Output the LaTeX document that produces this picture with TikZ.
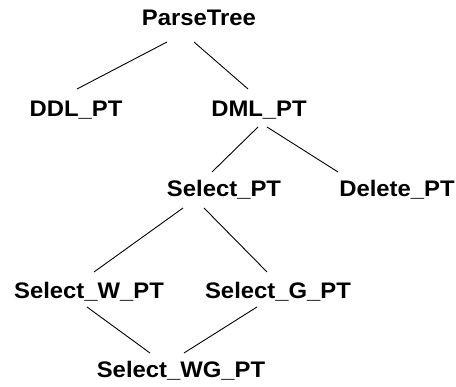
\documentclass[tikz,border=0pt]{standalone}
\usepackage{fontspec}
\setmainfont{Liberation Sans}[FakeStretch=1.06]
\begin{document}
\begin{tikzpicture}[x=1pt,y=1pt,
  lbl/.style={anchor=base,inner sep=0pt,font=\fontsize{22.5}{26}\selectfont\bfseries},
  edge/.style={line width=0.9pt}]
\useasboundingbox (0,0) rectangle (456,387);
\node[lbl] (P) at (199,361) {ParseTree};
\node[lbl] (DDL) at (76,270) {DDL\_PT};
\node[lbl] (DML) at (259,270) {DML\_PT};
\node[lbl] (Sel) at (224,190) {Select\_PT};
\node[lbl] (Del) at (397,190) {Delete\_PT};
\node[lbl] (SW) at (89,88) {Select\_W\_PT};
\node[lbl] (SG) at (278,88) {Select\_G\_PT};
\node[lbl] (SWG) at (181,9) {Select\_WG\_PT};
\draw[edge] ([shift={(-32,-16)}]P.base) -- ([shift={(1,28)}]DDL.base);
\draw[edge] ([shift={(-5,-16)}]P.base) -- ([shift={(-11,28)}]DML.base);
\draw[edge] ([shift={(-1,-10)}]DML.base) -- ([shift={(-12,25)}]Sel.base);
\draw[edge] ([shift={(8,-10)}]DML.base) -- ([shift={(-59,25)}]Del.base);
\draw[edge] ([shift={(-41,-11)}]Sel.base) -- ([shift={(5,27)}]SW.base);
\draw[edge] ([shift={(-20,-11)}]Sel.base) -- ([shift={(-11,27)}]SG.base);
\draw[edge] ([shift={(-2,-8)}]SW.base) -- ([shift={(-31,25)}]SWG.base);
\draw[edge] ([shift={(-21,-8)}]SG.base) -- ([shift={(3,25)}]SWG.base);
\end{tikzpicture}
\end{document}
